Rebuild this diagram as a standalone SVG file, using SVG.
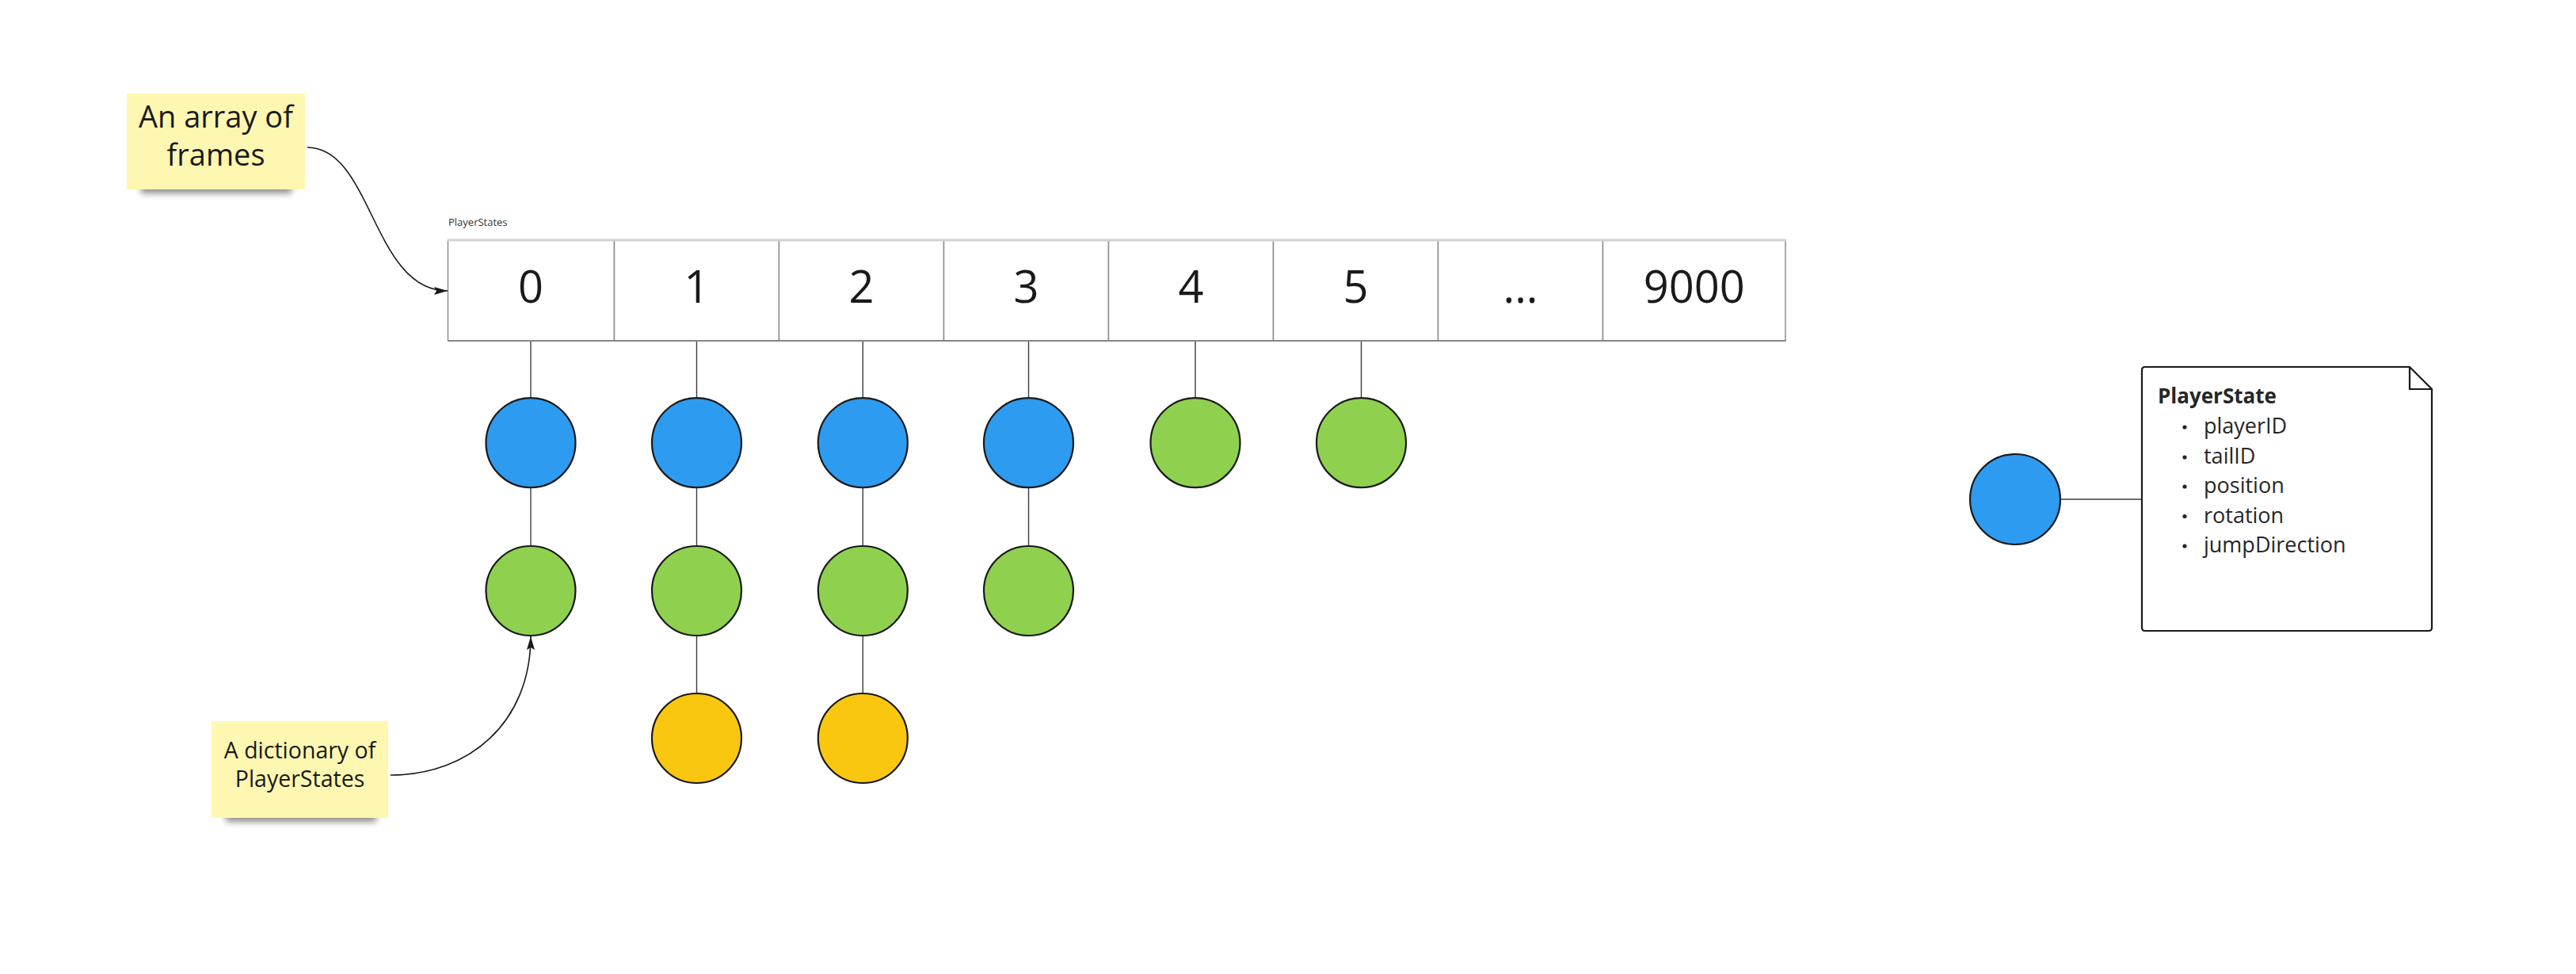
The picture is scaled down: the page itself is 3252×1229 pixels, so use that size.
<svg xmlns="http://www.w3.org/2000/svg" width="3252" height="1229" viewBox="0 0 3252 1229">
<style>
  text { font-family: "Open Sans", "Liberation Sans", sans-serif; fill: #1a1a1a; }
  .sticky { fill: #fef7b1; }
  .shadow { fill: #000; opacity: 0.45; }
  .cell { fill: #ffffff; stroke: #8c8c8c; stroke-width: 1.5; }
  .num { font-size: 56px; text-anchor: middle; }
  .node { stroke: #1a1a1a; stroke-width: 2.2; }
  .blue { fill: #2d9bf0; }
  .green { fill: #8fd14f; }
  .yellow { fill: #fac710; }
  .link { stroke: #3c3c3c; stroke-width: 1.4; fill: none; }
  .arrow { stroke: #1a1a1a; stroke-width: 1.6; fill: none; marker-end: url(#head); }
  .stickytext { font-size: 38px; text-anchor: middle; }
  .stickytext2 { font-size: 28.5px; text-anchor: middle; }
  .notetitle { font-size: 26px; font-weight: bold; fill: #262626; }
  .noteitem { font-size: 27px; fill: #262626; }
</style>
<defs>
  <marker id="head" markerWidth="18" markerHeight="12" refX="17" refY="6" orient="auto" markerUnits="userSpaceOnUse">
    <path d="M0,1 L17,6 L0,11 L3,6 Z" fill="#1a1a1a"/>
  </marker>
  <filter id="blur" x="-20%" y="-100%" width="140%" height="300%">
    <feGaussianBlur stdDeviation="4"/>
  </filter>
</defs>
<rect width="3252" height="1229" fill="#ffffff"/>

<!-- sticky 1 -->
<g id="sticky-array">
  <rect class="shadow" x="178" y="226" width="190" height="18" filter="url(#blur)"/>
  <rect class="sticky" x="160" y="118" width="225" height="121"/>
  <text class="stickytext" x="272.5" y="160.7">An array of</text>
  <text class="stickytext" x="272.5" y="209.3">frames</text>
</g>

<!-- sticky 2 -->
<g id="sticky-dict">
  <rect class="shadow" x="285" y="1019" width="190" height="18" filter="url(#blur)"/>
  <rect class="sticky" x="267" y="910" width="223" height="122"/>
  <text class="stickytext2" x="378.5" y="956.7">A dictionary of</text>
  <text class="stickytext2" x="378.5" y="993.3">PlayerStates</text>
</g>

<!-- frame array -->
<g id="frames">
  <text x="566" y="285" style="font-size:13px;fill:#333">PlayerStates</text>
  <rect class="cell" x="565.5" y="303" width="210" height="127"/>
  <rect class="cell" x="775.5" y="303" width="208" height="127"/>
  <rect class="cell" x="983.5" y="303" width="208" height="127"/>
  <rect class="cell" x="1191.5" y="303" width="208" height="127"/>
  <rect class="cell" x="1399.5" y="303" width="208" height="127"/>
  <rect class="cell" x="1607.5" y="303" width="208" height="127"/>
  <rect class="cell" x="1815.5" y="303" width="208" height="127"/>
  <rect class="cell" x="2023.5" y="303" width="230.5" height="127"/>
  <line x1="565" y1="303" x2="2254.5" y2="303" stroke="#d2d2d2" stroke-width="3"/>
  <line x1="565" y1="430" x2="2254.5" y2="430" stroke="#858585" stroke-width="2"/>
  <text class="num" x="670" y="381.5">0</text>
  <text class="num" x="879.5" y="381.5">1</text>
  <text class="num" x="1087.5" y="381.5">2</text>
  <text class="num" x="1295.5" y="381.5">3</text>
  <text class="num" x="1503.5" y="381.5">4</text>
  <text class="num" x="1711.5" y="381.5">5</text>
  <text class="num" x="1919.5" y="381.5">...</text>
  <text class="num" x="2138.7" y="381.5">9000</text>
</g>

<!-- connectors -->
<g id="connectors">
  <line class="link" x1="670" y1="431" x2="670" y2="502"/>
  <line class="link" x1="879.5" y1="431" x2="879.5" y2="502"/>
  <line class="link" x1="1089.3" y1="431" x2="1089.3" y2="502"/>
  <line class="link" x1="1298.5" y1="431" x2="1298.5" y2="502"/>
  <line class="link" x1="1509" y1="431" x2="1509" y2="502"/>
  <line class="link" x1="1718.5" y1="431" x2="1718.5" y2="502"/>
  <line class="link" x1="670" y1="615.5" x2="670" y2="689"/>
  <line class="link" x1="879.5" y1="615.5" x2="879.5" y2="689"/>
  <line class="link" x1="1089.3" y1="615.5" x2="1089.3" y2="689"/>
  <line class="link" x1="1298.5" y1="615.5" x2="1298.5" y2="689"/>
  <line class="link" x1="879.5" y1="802" x2="879.5" y2="875"/>
  <line class="link" x1="1089.3" y1="802" x2="1089.3" y2="875"/>
  <line class="link" x1="2601" y1="630" x2="2704" y2="630"/>
  <path class="arrow" d="M388,186 C470,186 470,367 565,367"/>
  <path class="arrow" d="M493,978 C592,978 670,912 670,803"/>
</g>

<!-- player state nodes -->
<g id="col0">
  <circle class="node blue" cx="670" cy="558.7" r="56.5"/>
  <circle class="node green" cx="670" cy="745.5" r="56.5"/>
</g>
<g id="col1">
  <circle class="node blue" cx="879.5" cy="558.7" r="56.5"/>
  <circle class="node green" cx="879.5" cy="745.5" r="56.5"/>
  <circle class="node yellow" cx="879.5" cy="931.5" r="56.5"/>
</g>
<g id="col2">
  <circle class="node blue" cx="1089.3" cy="558.7" r="56.5"/>
  <circle class="node green" cx="1089.3" cy="745.5" r="56.5"/>
  <circle class="node yellow" cx="1089.3" cy="931.5" r="56.5"/>
</g>
<g id="col3">
  <circle class="node blue" cx="1298.5" cy="558.7" r="56.5"/>
  <circle class="node green" cx="1298.5" cy="745.5" r="56.5"/>
</g>
<g id="col4">
  <circle class="node green" cx="1509" cy="558.7" r="56.5"/>
</g>
<g id="col5">
  <circle class="node green" cx="1718.5" cy="558.7" r="56.5"/>
</g>

<!-- legend -->
<g id="legend-node">
  <circle class="node blue" cx="2544" cy="630" r="57"/>
</g>
<g id="legend-note">
  <path d="M2708,463 H3042 L3070,491 V792 Q3070,796 3066,796 H2708 Q2704,796 2704,792 V467 Q2704,463 2708,463 Z" fill="#ffffff" stroke="#1a1a1a" stroke-width="2.2"/>
  <path d="M3042,463 V491 H3070" fill="none" stroke="#1a1a1a" stroke-width="2.2"/>
  <text class="notetitle" x="2724" y="509">PlayerState</text>
  <g fill="#262626">
    <circle cx="2758" cy="539" r="2.6"/>
    <circle cx="2758" cy="577" r="2.6"/>
    <circle cx="2758" cy="614" r="2.6"/>
    <circle cx="2758" cy="651.5" r="2.6"/>
    <circle cx="2758" cy="689" r="2.6"/>
  </g>
  <text class="noteitem" x="2782" y="547">playerID</text>
  <text class="noteitem" x="2782" y="584.5">tailID</text>
  <text class="noteitem" x="2782" y="622">position</text>
  <text class="noteitem" x="2782" y="659.5">rotation</text>
  <text class="noteitem" x="2782" y="697">jumpDirection</text>
</g>
</svg>
